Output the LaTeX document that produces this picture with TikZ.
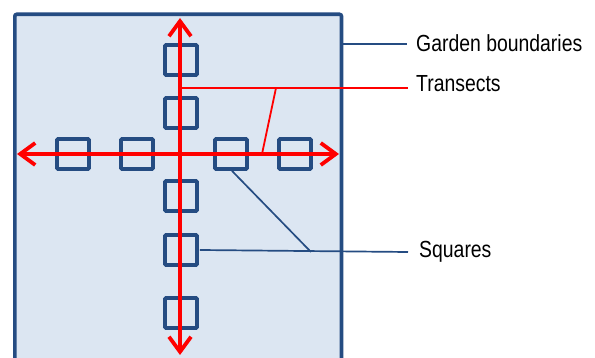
\documentclass[tikz,border=0pt]{standalone}
\usepackage{fontspec}
\setmainfont{Liberation Sans}
\usetikzlibrary{arrows.meta}
\definecolor{gardenblue}{RGB}{37,76,130}
\definecolor{gardenfill}{RGB}{220,230,242}
\definecolor{transred}{RGB}{255,0,0}
\def\tagtext#1{\scalebox{1}[1.2]{\fontsize{19.4}{22}\selectfont #1}}

\begin{document}
\begin{tikzpicture}[x=1pt,y=-1pt,>={Straight Barb[length=15pt,width=22pt]},
		quadrat/.style={draw=gardenblue,line width=3.8pt,rounded corners=1pt,
			minimum width=32pt,minimum height=30pt,inner sep=0pt},
		transect/.style={draw=transred,line width=3.8pt,<->,line cap=round},
		leader/.style={draw=gardenblue,line width=1.7pt},
		redleader/.style={draw=transred,line width=1.8pt},
		tag/.style={anchor=base west,inner sep=0pt}]
		\useasboundingbox (0,0) rectangle (595,358);
		
		% garden
		\draw[gardenblue,line width=3.6pt,fill=gardenfill,rounded corners=2pt]
		(14.8,14.3) rectangle (341.5,380);
		
		% squares
		\node[quadrat] (v1) at (181,60)  {};
		\node[quadrat] (v2) at (181,113) {};
		\node[quadrat] (v3) at (181,196) {};
		\node[quadrat] (v4) at (181,250) {};
		\node[quadrat] (v5) at (181,313) {};
		\node[quadrat] (h1) at (73,154)  {};
		\node[quadrat] (h2) at (137,154) {};
		\node[quadrat] (h3) at (231,154) {};
		\node[quadrat] (h4) at (295,154) {};
		
		% transects
		\coordinate (top)    at (180,18);
		\coordinate (bottom) at (180,355);
		\coordinate (left)   at (17,154);
		\coordinate (right)  at (339,154);
		\draw[transect] (top) -- (bottom);
		\draw[transect] (left) -- (right);
		
		% labels
		\node[tag] (gb) at (416,52)  {\tagtext{Garden boundaries}};
		\node[tag] (tr) at (416,92)  {\tagtext{Transects}};
		\node[tag] (sq) at (419,258) {\tagtext{Squares}};
		
		\draw[leader] (341.5,44) -- (407,44);
		\coordinate (tj) at (276,88);
		\draw[redleader] (181.5,88) -- (408,88);
		\draw[redleader] (tj) -- (262,154);
		\coordinate (sj) at (311,252);
		\draw[leader] ([xshift=1pt]v4.east) -- (408,252);
		\draw[leader] ([xshift=1pt]h3.south) -- (sj);
\end{tikzpicture}
\end{document}
